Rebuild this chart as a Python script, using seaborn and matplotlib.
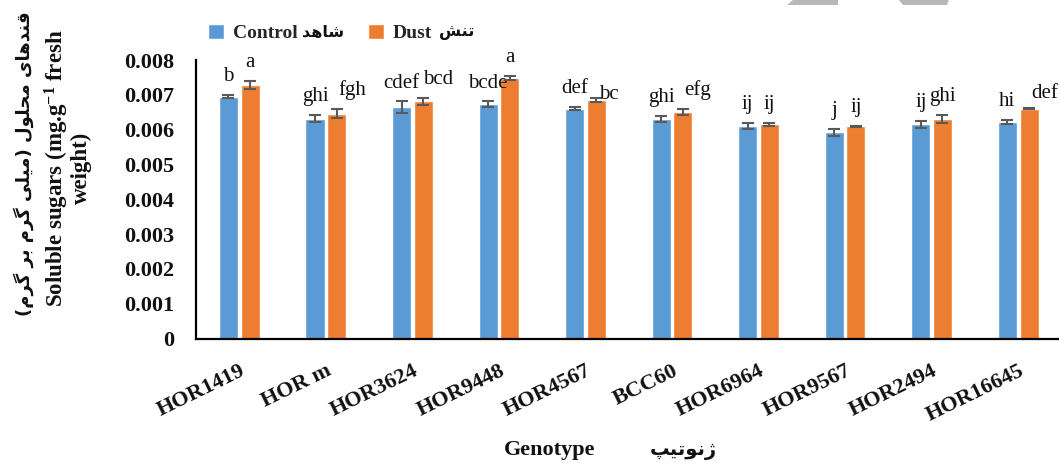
import matplotlib
matplotlib.use("Agg")
import matplotlib.pyplot as plt
import pandas as pd
import seaborn as sns
from matplotlib.patches import Patch, Polygon

# ---- data -----------------------------------------------------------------
genotypes = ["HOR1419", "HOR m", "HOR3624", "HOR9448", "HOR4567",
             "BCC60", "HOR6964", "HOR9567", "HOR2494", "HOR16645"]
control_mean = [0.00695, 0.00631, 0.00665, 0.00673, 0.00660,
                0.00630, 0.00611, 0.00593, 0.00615, 0.00622]
control_err = [0.00004, 0.00010, 0.00016, 0.00008, 0.00004,
               0.00009, 0.00008, 0.00010, 0.00010, 0.00007]
dust_mean = [0.00728, 0.00646, 0.00682, 0.00749, 0.00685,
             0.00650, 0.00615, 0.00609, 0.00631, 0.00660]
dust_err = [0.00012, 0.00014, 0.00010, 0.00006, 0.00006,
            0.00009, 0.00005, 0.00002, 0.00011, 0.00002]
control_letters = ["b", "ghi", "cdef", "bcde", "def", "ghi", "ij", "j", "ij", "hi"]
dust_letters = ["a", "fgh", "bcd", "a", "bc", "efg", "ij", "ij", "ghi", "def"]
y_ticks = [0.0, 0.001, 0.002, 0.003, 0.004, 0.005, 0.006, 0.007, 0.008]

# ---- minimal Persian shaping (presentation forms, visual order) -----------
# letter: (isolated, final, initial, medial); None = does not join forward
AR_FORMS = {
    "\u0627": ("\uFE8D", "\uFE8E", None, None),        # alef
    "\u0628": ("\uFE8F", "\uFE90", "\uFE91", "\uFE92"),  # beh
    "\u067E": ("\uFB56", "\uFB57", "\uFB58", "\uFB59"),  # peh
    "\u062A": ("\uFE95", "\uFE96", "\uFE97", "\uFE98"),  # teh
    "\u062D": ("\uFEA1", "\uFEA2", "\uFEA3", "\uFEA4"),  # hah
    "\u062F": ("\uFEA9", "\uFEAA", None, None),        # dal
    "\u0631": ("\uFEAD", "\uFEAE", None, None),        # reh
    "\u0698": ("\uFB8A", "\uFB8B", None, None),        # jeh
    "\u0634": ("\uFEB5", "\uFEB6", "\uFEB7", "\uFEB8"),  # sheen
    "\u0642": ("\uFED5", "\uFED6", "\uFED7", "\uFED8"),  # qaf
    "\u06AF": ("\uFB92", "\uFB93", "\uFB94", "\uFB95"),  # gaf
    "\u0644": ("\uFEDD", "\uFEDE", "\uFEDF", "\uFEE0"),  # lam
    "\u0645": ("\uFEE1", "\uFEE2", "\uFEE3", "\uFEE4"),  # meem
    "\u0646": ("\uFEE5", "\uFEE6", "\uFEE7", "\uFEE8"),  # noon
    "\u0647": ("\uFEE9", "\uFEEA", "\uFEEB", "\uFEEC"),  # heh
    "\u0648": ("\uFEED", "\uFEEE", None, None),        # waw
    "\u06CC": ("\uFBFC", "\uFBFD", "\uFBFE", "\uFBFF"),  # farsi yeh
}


def rtl(text):
    """Shape Persian letters and return the string in left-to-right visual order."""
    out = []
    for i, ch in enumerate(text):
        if ch not in AR_FORMS:
            out.append(ch)
            continue
        iso, fin, ini, med = AR_FORMS[ch]
        prev = text[i - 1] if i > 0 else ""
        nxt = text[i + 1] if i + 1 < len(text) else ""
        join_prev = prev in AR_FORMS and AR_FORMS[prev][2] is not None
        join_next = ini is not None and nxt in AR_FORMS
        if join_prev and join_next:
            out.append(med)
        elif join_prev:
            out.append(fin)
        elif join_next:
            out.append(ini)
        else:
            out.append(iso)
    mirror = {"(": ")", ")": "("}
    return "".join(mirror.get(c, c) for c in reversed(out))


# ---- style ------------------------------------------------------------------
sns.set_style("white")
SERIF = ["Liberation Serif", "DejaVu Sans"]
plt.rcParams["font.family"] = SERIF
plt.rcParams["mathtext.default"] = "regular"

BLUE = "#5B9BD5"
ORANGE = "#ED7D31"
ERR = "#595959"
INK = "#111111"

df = pd.DataFrame({
    "genotype": genotypes * 2,
    "value": control_mean + dust_mean,
    "treatment": ["Control"] * len(genotypes) + ["Dust"] * len(genotypes),
})

W, H = 1059, 463
fig = plt.figure(figsize=(W / 100, H / 100), dpi=100)
ax = fig.add_axes([196 / W, (H - 338.5) / H, 865.5 / W, 278.5 / H])

sns.barplot(data=df, x="genotype", y="value", hue="treatment",
            order=genotypes, hue_order=["Control", "Dust"],
            palette=[BLUE, ORANGE], errorbar=None, width=0.5, gap=0.12,
            saturation=1, legend=False, ax=ax)

bar_groups = list(ax.containers)
means = [control_mean, dust_mean]
errs = [control_err, dust_err]
letters = [control_letters, dust_letters]
# label nudges (points) for a few crowded letters: (series, index) -> (dx, dy)
nudges = {(1, 1): (11, 0), (1, 2): (11, 0), (1, 4): (9, -11),
          (1, 5): (10.5, 0), (1, 9): (11.5, -3)}

for s, cont in enumerate(bar_groups):
    xs = [b.get_x() + b.get_width() / 2 for b in cont]
    ax.errorbar(xs, means[s], yerr=errs[s], fmt="none", ecolor=ERR,
                elinewidth=1.5, capsize=4.5, capthick=1.5, zorder=3)
    for i, x in enumerate(xs):
        dx, dy = nudges.get((s, i), (0, 0))
        ax.annotate(letters[s][i], (x, means[s][i] + errs[s][i]),
                    xytext=(dx, 10 + dy), textcoords="offset points",
                    ha="center", va="baseline", fontsize=15,
                    family="Liberation Serif", color=INK)

ax.set_xlim(-0.5, 9.5)
ax.set_ylim(0, 0.008)
ax.set_yticks(y_ticks)
ax.set_yticklabels(["0" if v == 0 else f"{v:.3f}" for v in y_ticks])
ax.set_xlabel("")
ax.set_ylabel("")

for side in ("top", "right"):
    ax.spines[side].set_visible(False)
for side in ("left", "bottom"):
    ax.spines[side].set_color("black")
    ax.spines[side].set_linewidth(1.6)

ax.tick_params(axis="y", direction="out", length=5, width=1.5, color="black",
               pad=10.5, labelsize=16)
ax.tick_params(axis="x", length=0, pad=16, labelsize=16)
for lab in ax.get_yticklabels() + ax.get_xticklabels():
    lab.set_fontweight("bold")
    lab.set_color(INK)
for lab in ax.get_xticklabels():
    lab.set_rotation(26)
    lab.set_ha("right")
    lab.set_rotation_mode("anchor")

# legend: English labels from the legend, Persian words beside them
handles = [Patch(facecolor=BLUE), Patch(facecolor=ORANGE)]
fig.legend(handles, ["Control", "Dust"], loc="center left",
           bbox_to_anchor=(208 / W, 1 - 33 / H), ncol=2, frameon=False,
           handlelength=0.82, handleheight=0.82, handletextpad=0.46,
           columnspacing=3.6, borderpad=0, borderaxespad=0,
           prop={"family": "Liberation Serif", "weight": "bold", "size": 14})
fig.text(323 / W, 1 - 32 / H, rtl("شاهد"), ha="center", va="center",
         fontsize=11.5, fontweight="bold", family=["DejaVu Sans"], color=INK)
fig.text(457 / W, 1 - 32 / H, rtl("تنش"), ha="center", va="center",
         fontsize=11.5, fontweight="bold", family=["DejaVu Sans"], color=INK)

# axis titles
fig.text(24 / W, 1 - 164 / H, rtl("قندهای محلول (میلی گرم بر گرم)"),
         rotation=90, ha="center", va="center", fontsize=13,
         fontweight="bold", family=["DejaVu Sans"], color=INK)
fig.text(67 / W, 1 - 168 / H, "Soluble sugars (mg.g$^{-1}$ fresh\nweight)",
         rotation=90, ha="center", va="center", multialignment="center",
         fontsize=16.5, fontweight="bold", linespacing=1.0, color=INK)
fig.text(550 / W, 1 - 450 / H, "Genotype", ha="center", va="center",
         fontsize=16, fontweight="bold", color=INK)
fig.text(683 / W, 1 - 450 / H, rtl("ژنوتیپ"), ha="center", va="center",
         fontsize=14, fontweight="bold", family=["DejaVu Sans"], color=INK)

# grey page ornaments along the top edge
for pts in ([(800, -6), (838, -6), (838, 5), (787, 5)],
            [(894, -6), (951, -6), (947, 5), (903, 5)]):
    fig.add_artist(Polygon([(x / W, 1 - y / H) for x, y in pts],
                           closed=True, transform=fig.transFigure,
                           facecolor="#b8b8b8", edgecolor="none"))

fig.savefig("out.png", dpi=100)
